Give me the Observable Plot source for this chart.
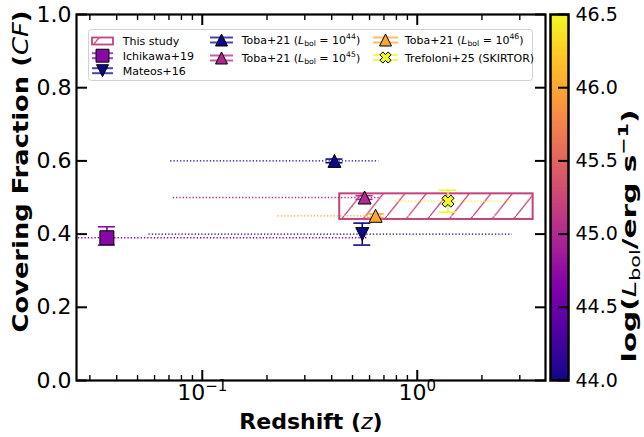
<!DOCTYPE html>
<html><head><meta charset="utf-8">
<script src="https://cdn.jsdelivr.net/npm/d3@7"></script>
<script src="https://cdn.jsdelivr.net/npm/@observablehq/plot@0.6"></script>
<style>
body{margin:0;background:#fff;}
#wrap{position:relative;width:644px;height:437px;}
#wrap svg{position:absolute;left:0;top:0;}
</style></head><body><div id="wrap"></div>
<script>
// ---------------- data ----------------
const studies = ["Ichikawa+19", "Mateos+16", "Toba+21 (L_bol = 10^44)", "Toba+21 (L_bol = 10^45)", "Toba+21 (L_bol = 10^46)", "Trefoloni+25 (SKIRTOR)"];
const markers = ["square", "triangle-down", "triangle", "triangle", "triangle", "X"];
const zMid  = [0.036, 0.555, 0.412, 0.569, 0.640, 1.39];
const zLow  = [0.020, 0.0565, 0.0713, 0.0733, 0.225, 0.79];
const zHigh = [0.585, 2.77, 0.663, 0.680, 0.700, 2.77];
const cfMid  = [0.39, 0.40, 0.60, 0.50, 0.45, 0.49];
const cfLow  = [0.37, 0.37, 0.595, 0.495, 0.445, 0.46];
const cfHigh = [0.42, 0.43, 0.605, 0.505, 0.455, 0.52];
const logLbol = [44.7, 44.0, 44.0, 45.0, 46.0, 46.5];

const thisStudyLabel = "This study";
const thisStudyZ = [0.436, 3.46];
const thisStudyCF = [0.44, 0.51];
const thisStudyLogL = 45.2;

const xMajorTicks = [0.1, 1];
const xMinorTicks = [0.03,0.04,0.05,0.06,0.07,0.08,0.09,0.2,0.3,0.4,0.5,0.6,0.7,0.8,0.9,2,3];
const yTicks = [0, 0.2, 0.4, 0.6, 0.8, 1.0];
const cbTicks = [44.0, 44.5, 45.0, 45.5, 46.0, 46.5];
const cbDomain = [44, 46.5];

// ---------------- build ----------------
const FONT = '"DejaVu Sans", sans-serif';
const rows = studies.map((s, i) => ({study: s, marker: markers[i], z: zMid[i], zLo: zLow[i], zHi: zHigh[i],
  cf: cfMid[i], cfLo: cfLow[i], cfHi: cfHigh[i], logL: logLbol[i]}));
const thisStudy = [{study: thisStudyLabel, zLo: thisStudyZ[0], zHi: thisStudyZ[1], cfLo: thisStudyCF[0], cfHi: thisStudyCF[1], logL: thisStudyLogL}];

// symbols where r = half size (matplotlib-like, bbox-centred)
const half = size => Math.sqrt(size / Math.PI);
const symSquare = {draw(c, s){const a = half(s); c.moveTo(-a,-a); c.lineTo(a,-a); c.lineTo(a,a); c.lineTo(-a,a); c.closePath();}};
const symTriUp = {draw(c, s){const a = half(s); c.moveTo(0,-a); c.lineTo(a,a); c.lineTo(-a,a); c.closePath();}};
const symTriDown = {draw(c, s){const a = half(s); c.moveTo(0,a); c.lineTo(a,-a); c.lineTo(-a,-a); c.closePath();}};
const symX = {draw(c, s){const h = half(s)*1.05, w = h*0.36;
  const pts = [[-w,-h],[w,-h],[w,-w],[h,-w],[h,w],[w,w],[w,h],[-w,h],[-w,w],[-h,w],[-h,-w],[-w,-w]]
    .map(([x,y]) => [(x-y)/Math.SQRT2, (x+y)/Math.SQRT2]);
  c.moveTo(pts[0][0], pts[0][1]); for (let k = 1; k < pts.length; k++) c.lineTo(pts[k][0], pts[k][1]); c.closePath();}};
const symbolFor = {"square": [symSquare, 7], "triangle": [symTriUp, 6.5], "triangle-down": [symTriDown, 6.5], "X": [symX, 6]};

const colorOpt = {type: "linear", scheme: "plasma", domain: cbDomain};
const dotMarks = Object.keys(symbolFor).map(k => Plot.dot(rows, {filter: d => d.marker === k, x: "z", y: "cf",
  symbol: symbolFor[k][0], r: symbolFor[k][1], fill: "logL", stroke: "black", strokeWidth: 1}));

const main = Plot.plot({
  width: 644, height: 437, marginLeft: 76, marginRight: 99, marginTop: 14, marginBottom: 57,
  style: {fontFamily: FONT, background: "transparent", color: "black"},
  x: {type: "log", domain: [0.026, 3.95]},
  y: {domain: [0, 1]},
  color: colorOpt,
  marks: [
    Plot.rect(thisStudy, {x1: "zLo", x2: "zHi", y1: "cfLo", y2: "cfHi", fill: "url(#hatch)", stroke: "logL", strokeWidth: 2}),
    Plot.ruleY(rows, {y: "cf", x1: "zLo", x2: "zHi", stroke: "logL", strokeWidth: 1.3, strokeDasharray: "1.3,2", clip: true}),
    Plot.ruleX(rows, {x: "z", y1: "cfLo", y2: "cfHi", stroke: "logL", strokeWidth: 1.6}),
    Plot.ruleY(rows, {y: "cfLo", x1: "z", x2: "z", insetLeft: -8.5, insetRight: -8.5, stroke: "logL", strokeWidth: 1.6}),
    Plot.ruleY(rows, {y: "cfHi", x1: "z", x2: "z", insetLeft: -8.5, insetRight: -8.5, stroke: "logL", strokeWidth: 1.6}),
    ...dotMarks,
    // ticks (inward)
    Plot.axisY({anchor: "left", ticks: yTicks, tickSize: -11, fill: "none", label: null, strokeWidth: 2}),
    Plot.axisY({anchor: "right", ticks: yTicks, tickSize: -11, fill: "none", label: null, strokeWidth: 2}),
    Plot.axisX({anchor: "bottom", ticks: xMajorTicks, tickSize: -10, fill: "none", label: null, strokeWidth: 2}),
    Plot.axisX({anchor: "top", ticks: xMajorTicks, tickSize: -10, fill: "none", label: null, strokeWidth: 2}),
    Plot.axisX({anchor: "bottom", ticks: xMinorTicks, tickSize: -5, fill: "none", label: null, strokeWidth: 1.4}),
    Plot.axisX({anchor: "top", ticks: xMinorTicks, tickSize: -5, fill: "none", label: null, strokeWidth: 1.4}),
    // tick labels
    Plot.axisY({anchor: "left", ticks: yTicks, tickSize: 0, tickPadding: 5, tickFormat: d3.format(".1f"), fontSize: 22, label: null}),
    Plot.axisX({anchor: "bottom", ticks: xMajorTicks, tickSize: 0, tickPadding: 4, tickFormat: d => "10^" + Math.round(Math.log10(d)), fontSize: 22, label: null}),
    Plot.frame({stroke: "black", strokeWidth: 2.2})
  ]
});

const cbar = Plot.plot({
  width: 644, height: 437, marginLeft: 550, marginRight: 76, marginTop: 14, marginBottom: 57,
  style: {fontFamily: FONT, background: "transparent", color: "black"},
  x: {domain: [0, 1], axis: null},
  y: {domain: cbDomain, axis: null},
  color: colorOpt,
  marks: [
    Plot.raster({x1: 0, x2: 1, y1: cbDomain[0], y2: cbDomain[1], width: 2, height: 300, fill: (x, y) => y, imageRendering: "auto"}),
    Plot.axisY({anchor: "right", ticks: cbTicks, tickSize: -11, fill: "none", label: null, strokeWidth: 2}),
    Plot.axisY({anchor: "right", ticks: cbTicks, tickSize: 0, tickPadding: 7, tickFormat: d3.format(".1f"), fontSize: 19, label: null}),
    Plot.frame({stroke: "black", strokeWidth: 2.5})
  ]
});

const wrap = document.getElementById("wrap");
wrap.appendChild(main);
wrap.appendChild(cbar);

const svg = d3.select(main);
const color = main.scale("color");
const studyColor = color.apply(thisStudyLogL);

// hatch pattern
const defs = svg.insert("defs", ":first-child");
const pat = defs.append("pattern").attr("id", "hatch").attr("patternUnits", "userSpaceOnUse")
  .attr("width", 21.5).attr("height", 27);
pat.append("path").attr("d", "M-2,29.5 L23.5,-2.5").attr("stroke", studyColor).attr("stroke-width", 1.3).attr("fill", "none");

// superscript tick labels
svg.selectAll('g[aria-label="x-axis tick label"] text').each(function() {
  const t = this.textContent; const m = t.match(/^10\^(-?\d+)$/);
  if (!m) return;
  const sel = d3.select(this); sel.text("10");
  sel.append("tspan").attr("font-size", 15).attr("dy", -9).text(m[1].replace("-", "\u2212"));
});

// rich text helper
function rich(textSel, parts, base) {
  let shift = 0;
  parts.forEach(p => {
    const ts = textSel.append("tspan").text(p.t);
    let target = 0;
    if (p.sub) { target = 0.22 * base; ts.attr("font-size", base * 0.7); }
    if (p.sup) { target = -0.42 * base; ts.attr("font-size", base * 0.7); }
    if (p.italic) ts.attr("font-style", "italic");
    if (p.weight) ts.attr("font-weight", p.weight);
    if (target !== shift) { ts.attr("dy", target - shift); shift = target; }
  });
}
function labelParts(s) {
  const m = s.match(/^(.*)\(L_bol = 10\^(\d+)\)$/);
  if (!m) return [{t: s}];
  return [{t: m[1] + "("}, {t: "L", italic: true}, {t: "bol", sub: true}, {t: " = 10"}, {t: m[2], sup: true}, {t: ")"}];
}

// axis titles
const xt = svg.append("text").attr("x", 311).attr("y", 429).attr("text-anchor", "middle")
  .attr("font-family", FONT).attr("font-size", 22).attr("font-weight", "bold");
rich(xt, [{t: "Redshift ("}, {t: "z", italic: true, weight: "normal"}, {t: ")"}], 22);
const yt = svg.append("text").attr("transform", "translate(28,171.5) rotate(-90)").attr("text-anchor", "middle")
  .attr("font-family", FONT).attr("font-size", 22).attr("font-weight", "bold")
  .attr("textLength", 322).attr("lengthAdjust", "spacingAndGlyphs");
rich(yt, [{t: "Covering Fraction ("}, {t: "CF", italic: true, weight: "normal"}, {t: ")"}], 22);

const cbsvg = d3.select(cbar);
const ct = cbsvg.append("text").attr("transform", "translate(636,236) rotate(-90)").attr("text-anchor", "middle")
  .attr("font-family", FONT).attr("font-size", 19.5).attr("font-weight", "bold")
  .attr("textLength", 253).attr("lengthAdjust", "spacingAndGlyphs");
rich(ct, [{t: "log("}, {t: "L", italic: true, weight: "normal"}, {t: "bol", sub: true, weight: "normal"},
  {t: "/erg s"}, {t: "\u22121", sup: true}, {t: ")"}], 19.5);

// legend
const lg = svg.append("g").attr("font-family", FONT).attr("font-size", 11).attr("text-anchor", "start").attr("fill", "black");
lg.append("rect").attr("x", 88.5).attr("y", 29.5).attr("width", 444).attr("height", 51).attr("rx", 3)
  .attr("fill", "white").attr("fill-opacity", 0.8).attr("stroke", "#d0d0d0");
const cols = [{hx0: 92, hx1: 113, tx: 122.7, ys: [41, 55.7, 70.7]}, {hx0: 210, hx1: 233, tx: 241.7, ys: [40, 58]}, {hx0: 373, hx1: 398, tx: 405, ys: [40, 57.5]}];
const slots = [[0,1],[0,2],[1,0],[1,1],[2,0],[2,1]];
// this study
{
  const c = cols[0], cy = c.ys[0];
  lg.append("rect").attr("x", c.hx0).attr("y", cy - 3.5).attr("width", c.hx1 - c.hx0).attr("height", 7)
    .attr("fill", "url(#hatch)").attr("stroke", studyColor).attr("stroke-width", 1.8);
  lg.append("text").attr("x", c.tx).attr("y", cy + 4).text(thisStudyLabel);
}
rows.forEach((d, i) => {
  const [ci, ri] = slots[i]; const c = cols[ci]; const cy = c.ys[ri];
  const col = color.apply(d.logL);
  [-2.5, 2.5].forEach(off => lg.append("line").attr("x1", c.hx0).attr("x2", c.hx1).attr("y1", cy + off).attr("y2", cy + off)
    .attr("stroke", col).attr("stroke-width", 2).attr("stroke-opacity", 0.75));
  const [sym, r] = symbolFor[d.marker];
  lg.append("path").attr("transform", `translate(${(c.hx0 + c.hx1) / 2},${cy})`)
    .attr("d", d3.symbol(sym, Math.PI * r * r * 0.85)()).attr("fill", col).attr("stroke", "black").attr("stroke-width", 1);
  const t = lg.append("text").attr("x", c.tx).attr("y", cy + 4);
  rich(t, labelParts(d.study), 11);
});
</script></body></html>
